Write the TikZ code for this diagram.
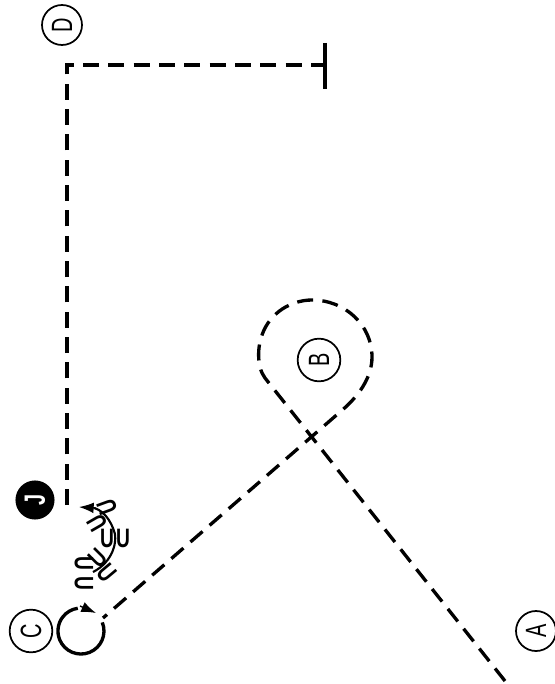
\documentclass[tikz,border=0pt]{standalone}
\usepackage{fontspec}
\usepackage{graphicx}
\setmainfont{Liberation Sans}
\usetikzlibrary{arrows.meta}
\newcommand{\lettr}[1]{\scalebox{.68}[1]{\fontsize{22}{22}\selectfont #1}}
\newcommand{\basU}{\scalebox{.72}[1]{\bfseries\fontsize{20}{20}\selectfont U}}
\tikzset{
  lab/.style={circle,draw,line width=1.3pt,minimum size=30pt,inner sep=0pt,rotate=90},
  labbig/.style={lab,minimum size=32pt},
  labf/.style={lab,minimum size=28pt,fill=black,text=white},
  dashline/.style={line width=2.5pt,dash pattern=on 12pt off 7pt},
  base/.style={inner sep=0pt},
  tip/.style={-{Latex[length=11pt,width=8pt]}},
}
\begin{document}
\begin{tikzpicture}[x=0.75pt,y=-0.75pt]
\useasboundingbox (0,0) rectangle (555,684);
\node[lab] (D) at (62,25) {\lettr{D}};
\node[labbig] (C) at (31,631) {\lettr{C}};
\node[lab] (A) at (536,631) {\lettr{A}};
\node[labbig] (B) at (319,360) {\lettr{B}};
\node[labf] (J) at (35,500) {\lettr{\bfseries J}};
\coordinate (jstart) at (67,505);
\coordinate (corner) at (67,65);
\coordinate (bar) at (325,65);
\coordinate (bart) at (325,43);
\coordinate (barb) at (325,89);
\coordinate (astart) at (505,681);
\coordinate (lend) at (103,618);
\draw[dashline] (jstart) -- (corner) -- (bar);
\draw[line width=2.5pt] (bart) -- (barb);
\draw[dashline] (astart) -- (265,378)
  .. controls (256,366) and (258,345) .. (262,335)
  .. controls (270,312) and (292,300) .. (312,300)
  .. controls (345,300) and (372,325) .. (372,357)
  .. controls (372,378) and (358,397) .. (340,412)
  -- (lend);
% C loop
\draw[line width=2.5pt] (102.3,622.4) arc[start angle=-22,end angle=262,radius=23];
\draw[line width=1pt,tip] (80,606) -- (96,613);
% arc of bases
\draw[line width=1.6pt] (93,572) .. controls (113,562) and (119,540) .. (113,528) .. controls (108,516) and (101,510) .. (94,508);
\draw[line width=1pt,tip] (96,508) -- (79,507);
\node[base,rotate=110] (u1) at (107,507) {\basU};
\node[base,rotate=120] (u2) at (97,523) {\basU};
\node[base] (u3) at (107,538) {\basU};
\node[base] (u4) at (123,538) {\basU};
\node[base,rotate=45] (u5) at (98,558) {\basU};
\node[base,rotate=-50] (u6) at (107,573) {\basU};
\node[base,rotate=-90] (u7) at (84,563) {\basU};
\node[base,rotate=-90] (u8) at (84,583) {\basU};
\end{tikzpicture}
\end{document}
